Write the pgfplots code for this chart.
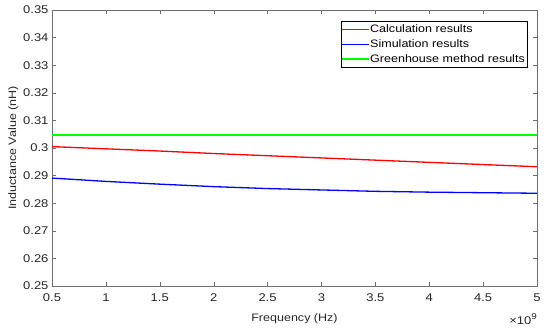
\documentclass[border=0pt]{standalone}
\usepackage{fontspec}
\setmainfont{Liberation Sans}[FakeStretch=1.16]
\usepackage{pgfplots}
\pgfplotsset{compat=1.18}
\definecolor{axgray}{RGB}{110,110,110}
\definecolor{txtgray}{RGB}{38,38,38}
\definecolor{mred}{RGB}{255,0,0}
\definecolor{mblue}{RGB}{0,0,255}
\definecolor{mgreen}{RGB}{0,255,0}
\begin{document}
\begin{tikzpicture}
\begin{axis}[
  name=ax,
  scale only axis, width=485pt, height=276pt,
  xmin=0.5, xmax=5, ymin=0.25, ymax=0.35,
  xtick={0.5,1,1.5,2,2.5,3,3.5,4,4.5,5},
  ytick={0.25,0.26,0.27,0.28,0.29,0.3,0.31,0.32,0.33,0.34,0.35},
  scaled x ticks=false, scaled y ticks=false,
  xticklabel style={/pgf/number format/fixed, yshift=-4pt},
  yticklabel style={/pgf/number format/fixed,/pgf/number format/precision=2},
  /pgf/number format/assume math mode=true,
  tick align=inside, major tick length=4pt,
  axis line style={axgray}, tick style={axgray},
  tick label style={font=\fontsize{11.2}{12}\selectfont, text=txtgray},
  label style={font=\fontsize{10.8}{12}\selectfont, text=txtgray},
  xlabel={Frequency (Hz)}, ylabel={Inductance Value (nH)},
  xlabel style={yshift=-5pt},
  ylabel style={yshift=-2pt},
  legend style={at={(1,1)}, anchor=north east, xshift=-10pt, yshift=-11pt,
    font=\fontsize{10.8}{12}\selectfont,
    inner xsep=1pt, inner ysep=3pt, row sep=4.5pt,
    nodes={inner xsep=1pt, inner ysep=0.5pt}},
  legend cell align=left,
  legend image code/.code={\draw[#1, line width=1.3pt] (0cm,0cm) -- (0.92cm,0cm);},
]
\addplot[draw=mred, line width=1.3pt] coordinates {
(0.5,0.3005) (1,0.2997) (1.5,0.2989) (2,0.2980) (2.5,0.2972)
(3,0.2964) (3.5,0.2956) (4,0.2948) (4.5,0.2940) (5,0.2932)};
\addlegendentry{Calculation results}
\addplot[draw=mblue, line width=1.3pt] coordinates {
(0.5,0.2891) (1,0.2879) (1.5,0.2869) (2,0.2860) (2.5,0.2853)
(3,0.2848) (3.5,0.2843) (4,0.2840) (4.5,0.2838) (5,0.2836)};
\addlegendentry{Simulation results}
\addplot[draw=mgreen, line width=1.3pt] coordinates {(0.5,0.3047) (5,0.3047)};
\addlegendentry{Greenhouse method results}
\end{axis}
\node[anchor=north east, font=\fontsize{11.2}{12}\selectfont, text=txtgray, inner sep=0pt]
  at ([xshift=0pt,yshift=-27pt]ax.south east) {×10\raisebox{0.9ex}{\fontsize{8.5}{9}\selectfont 9}};
\pgfresetboundingbox
\path (-52pt,-48pt) rectangle (498pt,286pt);
\end{tikzpicture}
\end{document}
